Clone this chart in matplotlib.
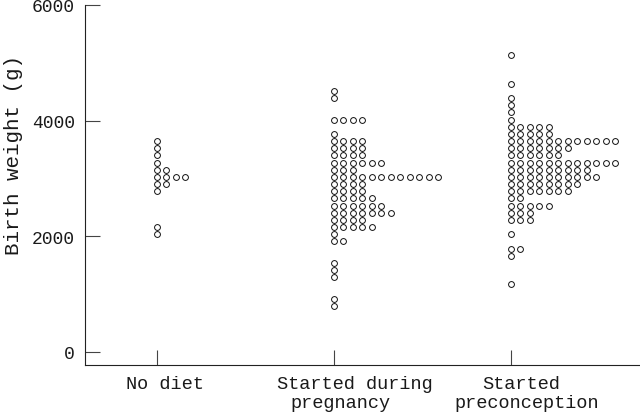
import matplotlib
matplotlib.use('Agg')
import matplotlib.pyplot as plt
import numpy as np

# Category labels (two lines each)
cat_line1 = ["No diet", "Started during", "Started"]
cat_line2 = ["", "pregnancy", "preconception"]

# Birth weight bins (g) and number of babies per bin
nodiet_bins = [3648, 3524, 3400, 3276, 3152, 3028, 2904, 2780, 2160, 2036]
nodiet_counts = [1, 1, 1, 1, 2, 4, 2, 1, 1, 1]

preg_bins = [4516, 4392, 4020, 3772, 3648, 3524, 3400, 3276, 3152, 3028,
             2904, 2780, 2656, 2532, 2408, 2284, 2160, 2036, 1912, 1540,
             1416, 1292, 920, 796]
preg_counts = [1, 1, 4, 1, 4, 4, 4, 6, 3, 12,
               4, 4, 5, 6, 7, 4, 5, 1, 2, 1,
               1, 1, 1, 1]

precon_bins = [5136, 4640, 4392, 4268, 4144, 4020, 3896, 3772, 3648, 3524,
               3400, 3276, 3152, 3028, 2904, 2780, 2656, 2532, 2408, 2284,
               2036, 1788, 1664, 1168]
precon_counts = [1, 1, 1, 1, 1, 1, 5, 5, 12, 7,
                 6, 12, 9, 10, 8, 7, 2, 5, 3, 3,
                 1, 2, 1, 1]

yticks = [0, 2000, 4000, 6000]
ylabel = "Birth weight (g)"

MONO = ["Liberation Mono", "DejaVu Sans Mono"]
TXT = "#1a1a1a"

fig = plt.figure(figsize=(6.4, 4.14), dpi=100)
ax = fig.add_axes([85/640, 1-366/414, 1-85/640, 360/414])

dx = 9.45/177.0
groups = [(nodiet_bins, nodiet_counts), (preg_bins, preg_counts), (precon_bins, precon_counts)]
for i, (bins, counts) in enumerate(groups):
    xs, ys = [], []
    for b, c in zip(bins, counts):
        for j in range(c):
            xs.append(i + 1 + j*dx)
            ys.append(b)
    ax.plot(xs, ys, linestyle='none', marker='o', markersize=4.2,
            markerfacecolor='white', markeredgecolor='#111111', markeredgewidth=0.7,
            clip_on=False)

ax.set_xlim(1 - 72/177.0, 3 + 129/177.0)
ax.set_ylim(-224.8, 6000)

for s in ['top', 'right']:
    ax.spines[s].set_visible(False)
for s in ['left', 'bottom']:
    ax.spines[s].set_linewidth(0.8)
    ax.spines[s].set_color('#222222')

ax.set_yticks(yticks)
ax.set_yticklabels([str(v) for v in yticks], family=MONO, fontsize=13, color=TXT)
ax.set_xticks([1, 2, 3])
ax.set_xticklabels([])
ax.tick_params(direction='in', length=10.5, width=0.8, color='#444444', pad=7.2)

ax.set_ylabel(ylabel, family=MONO, fontsize=15, color=TXT)
ax.yaxis.set_label_coords(-0.112, 0.586)

# category labels, two lines each (offsets in px relative to the tick)
off1 = [7.5, 20.6, 10.6]
off2 = [0.0, 6.7, 15.4]
for i in range(3):
    ax.annotate(cat_line1[i], xy=(i + 1, 0), xycoords=('data', 'axes fraction'),
                xytext=(off1[i]*0.72, -23*0.72), textcoords='offset points',
                ha='center', va='baseline', family=MONO, fontsize=13.4, color=TXT,
                annotation_clip=False)
    if cat_line2[i]:
        ax.annotate(cat_line2[i], xy=(i + 1, 0), xycoords=('data', 'axes fraction'),
                    xytext=(off2[i]*0.72, -42*0.72), textcoords='offset points',
                    ha='center', va='baseline', family=MONO, fontsize=13.4, color=TXT,
                    annotation_clip=False)

fig.savefig("out.png", dpi=100)
